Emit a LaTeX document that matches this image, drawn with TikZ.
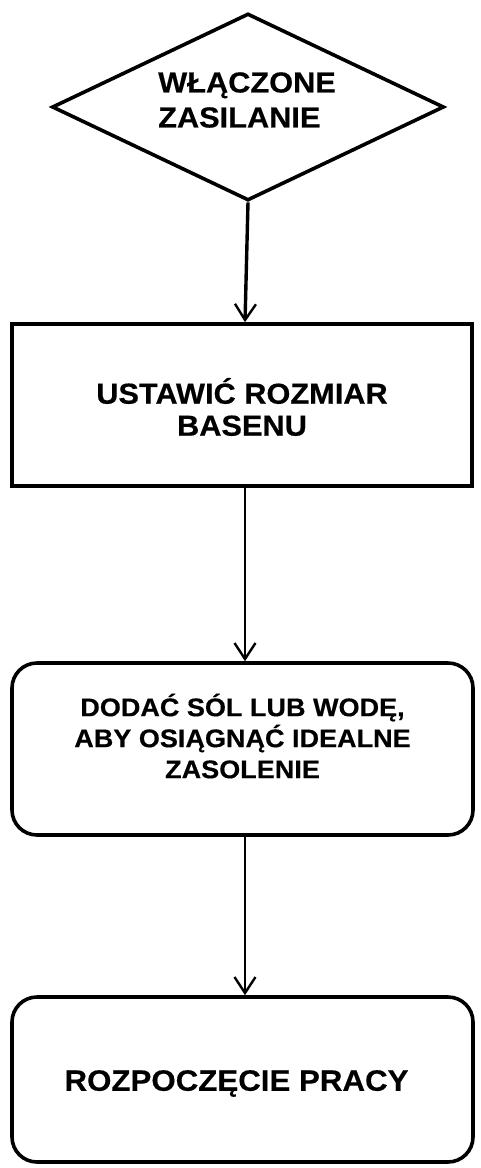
\documentclass[tikz,border=0pt]{standalone}
\usepackage{fontspec}
\setmainfont{Liberation Sans}[FakeStretch=1.06,FakeBold=0.4]
\usetikzlibrary{shapes.geometric,arrows.meta}
\begin{document}
\begin{tikzpicture}[x=1pt,y=-1pt,
  thickline/.style={line width=3.6pt},
  decision/.style={diamond, draw, thickline, minimum width=392pt, minimum height=187pt, shape aspect=2.1, inner sep=0pt},
  stepbox/.style={rectangle, draw, thickline, minimum width=460pt, minimum height=162pt},
  roundbox/.style={rectangle, rounded corners=25pt, draw, thickline, minimum width=461pt},
  label/.style={align=center, inner sep=0pt},
  flow/.style={-{Straight Barb[length=16pt,width=21pt,line width=2.4pt]}},
]
\useasboundingbox (0,0) rectangle (481,1168);
\node[decision] (d) at (248,107) {};
\node[stepbox] (b1) at (242,405) {};
\node[roundbox, minimum height=172pt] (b2) at (242.5,749) {};
\node[roundbox, minimum height=165pt] (b3) at (242.5,1079.5) {};
\node[label, align=left, font=\bfseries\fontsize{29}{35}\selectfont] (t0) at ([xshift=-1pt,yshift=7pt]d.center) {WŁĄCZONE\\ZASILANIE};
\node[label, font=\bfseries\fontsize{29}{32}\selectfont] (t1) at ([yshift=-2pt]b1.center) {USTAWIĆ ROZMIAR\\BASENU};
\node[label, font=\bfseries\fontsize{25.5}{31}\selectfont] (t2) at ([yshift=13pt]b2.center) {DODAĆ SÓL LUB WODĘ,\\ABY OSIĄGNĄĆ IDEALNE\\ZASOLENIE};
\node[label, font=\bfseries\fontsize{29.5}{35}\selectfont] (t3) at ([xshift=-6pt,yshift=-4pt]b3.center) {ROZPOCZĘCIE PRACY};
\draw[flow, line width=3.4pt] (d.south) -- ([xshift=3pt]b1.north);
\draw[flow, line width=1.6pt] ([xshift=3pt]b1.south) -- ([xshift=2.5pt]b2.north);
\draw[flow, line width=1.6pt] ([xshift=2.5pt]b2.south) -- ([xshift=2.5pt]b3.north);
\end{tikzpicture}
\end{document}
